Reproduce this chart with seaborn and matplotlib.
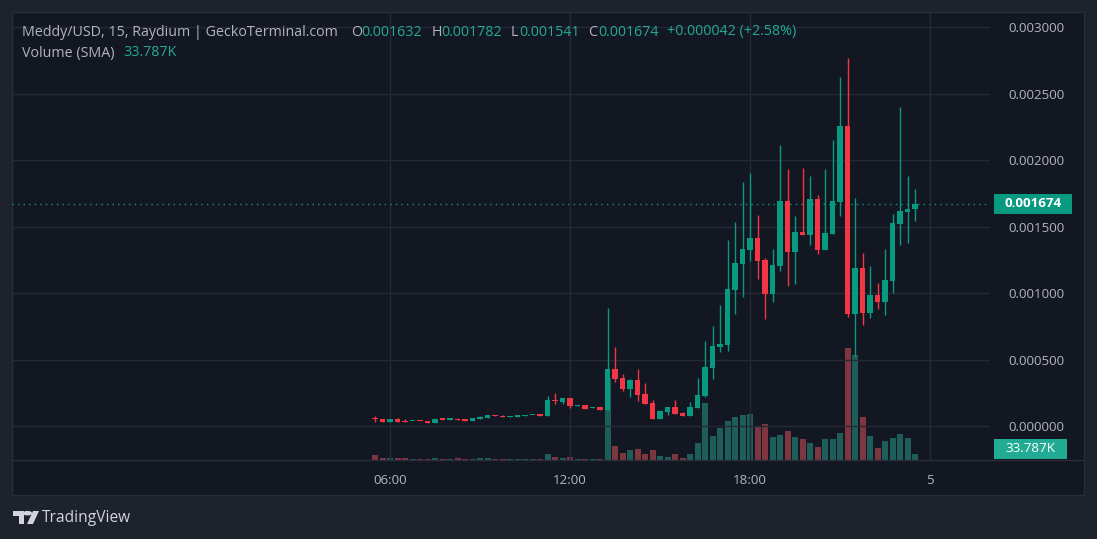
import numpy as np
import pandas as pd
import matplotlib
matplotlib.use("Agg")
import matplotlib.pyplot as plt
import seaborn as sns
from matplotlib.patches import Rectangle, Polygon, Circle
from matplotlib.lines import Line2D

# ---------------- data (prices in units of 0.001 USD, volume in K) ----------------
PRICE_UNIT = 1e-3
start_hour = 5.5          # first candle 05:30
interval_h = 0.25         # 15 minute candles

open_ = [0.062, 0.053, 0.030, 0.053, 0.035, 0.036, 0.038, 0.030, 0.025, 0.053,
         0.048, 0.053, 0.053, 0.038, 0.053, 0.060, 0.083, 0.075, 0.068, 0.070,
         0.077, 0.080, 0.083, 0.075, 0.196, 0.181, 0.211, 0.150, 0.158, 0.135,
         0.143, 0.120, 0.429, 0.361, 0.278, 0.346, 0.241, 0.173, 0.053, 0.105,
         0.143, 0.098, 0.075, 0.138, 0.226, 0.436, 0.594, 0.609, 1.023, 1.219,
         1.324, 1.415, 1.249, 0.993, 1.204, 1.693, 1.309, 1.460, 1.437, 1.708,
         1.324, 1.445, 1.685, 2.257, 0.843, 1.189, 0.850, 0.986, 0.933, 1.091,
         1.520, 1.610, 1.632]
high = [0.075, 0.053, 0.053, 0.060, 0.053, 0.038, 0.038, 0.030, 0.053, 0.053,
        0.052, 0.060, 0.053, 0.060, 0.075, 0.083, 0.083, 0.085, 0.075, 0.075,
        0.083, 0.083, 0.083, 0.226, 0.248, 0.211, 0.211, 0.158, 0.158, 0.143,
        0.143, 0.888, 0.594, 0.391, 0.354, 0.429, 0.324, 0.196, 0.120, 0.143,
        0.196, 0.105, 0.181, 0.361, 0.640, 0.752, 0.910, 1.400, 1.535, 1.836,
        1.904, 1.588, 1.264, 1.332, 2.114, 1.934, 1.580, 1.941, 1.881, 1.738,
        1.934, 2.152, 2.626, 2.769, 1.716, 1.302, 1.204, 1.076, 1.332, 1.595,
        2.400, 1.881, 1.782]
low = [0.028, 0.030, 0.030, 0.030, 0.032, 0.036, 0.035, 0.025, 0.025, 0.048,
       0.048, 0.045, 0.038, 0.038, 0.053, 0.060, 0.075, 0.068, 0.068, 0.070,
       0.077, 0.080, 0.078, 0.075, 0.165, 0.165, 0.135, 0.150, 0.128, 0.135,
       0.120, 0.120, 0.333, 0.263, 0.218, 0.188, 0.166, 0.053, 0.053, 0.083,
       0.090, 0.075, 0.075, 0.138, 0.218, 0.354, 0.557, 0.564, 0.843, 0.971,
       1.242, 1.106, 0.805, 0.933, 1.166, 1.053, 1.068, 1.437, 1.362, 1.294,
       1.324, 1.445, 1.580, 0.820, 0.527, 0.760, 0.813, 0.880, 0.835, 1.001,
       1.362, 1.377, 1.541]
close = [0.050, 0.030, 0.053, 0.030, 0.032, 0.038, 0.035, 0.025, 0.053, 0.048,
         0.052, 0.045, 0.038, 0.060, 0.068, 0.083, 0.075, 0.068, 0.075, 0.075,
         0.083, 0.083, 0.078, 0.196, 0.188, 0.211, 0.150, 0.158, 0.128, 0.143,
         0.120, 0.429, 0.354, 0.278, 0.346, 0.233, 0.166, 0.053, 0.113, 0.143,
         0.090, 0.075, 0.143, 0.233, 0.444, 0.602, 0.617, 1.031, 1.226, 1.332,
         1.415, 1.242, 0.993, 1.211, 1.693, 1.309, 1.460, 1.437, 1.708, 1.324,
         1.452, 1.693, 2.257, 0.843, 1.189, 0.850, 0.986, 0.933, 1.099, 1.527,
         1.618, 1.632, 1.674]
volume_k = [28, 11, 11, 11, 11, 6, 6, 6, 11, 6,
            6, 11, 6, 6, 11, 11, 6, 6, 6, 6,
            6, 6, 6, 34, 17, 11, 17, 6, 6, 6,
            6, 462, 79, 39, 56, 62, 34, 56, 23, 17,
            34, 11, 34, 96, 321, 135, 180, 220, 242, 253,
            259, 191, 203, 129, 141, 163, 129, 118, 96, 73,
            118, 118, 152, 631, 591, 242, 135, 68, 107, 124,
            146, 124, 33.787]

price_ticks = [0.0, 0.5, 1.0, 1.5, 2.0, 2.5, 3.0]
time_ticks = [6, 12, 18, 24]
time_labels = ["06:00", "12:00", "18:00", "5"]
change_text = "+0.000042 (+2.58%)"

df = pd.DataFrame({"open": open_, "high": high, "low": low,
                   "close": close, "vol": volume_k})
df["t"] = start_hour + interval_h * np.arange(len(df))
for c in ["open", "high", "low", "close"]:
    df[c] = df[c] * PRICE_UNIT
df["up"] = df["close"] >= df["open"]

# ---------------- style ----------------
sns.set_theme(style="dark")
plt.rcParams['font.family'] = ['Open Sans', 'DejaVu Sans']

UP, DOWN = "#089981", "#f23645"
VUP, VDOWN = "#1d5e5a", "#7e3640"
GRID = "#252935"
TXT = "#b2b5be"
PANE = "#131722"
OUTER = "#1e222d"
FS = 9.6      # axis labels
HFS = 10.3    # header legend

W, H = 1097, 539
fig = plt.figure(figsize=(W / 100, H / 100), dpi=100)
fig.patch.set_facecolor(OUTER)

def fx(x):
    return x / W

def fy(y):
    return 1 - y / H

# pane background
fig.patches.append(Rectangle((fx(12), fy(495)), fx(1084) - fx(12), fy(12) - fy(495),
                             transform=fig.transFigure, facecolor=PANE,
                             edgecolor="#2a2e39", lw=1, zorder=-5))

rect = [fx(12), fy(460), fx(990) - fx(12), fy(12) - fy(460)]
px_per_mp = 132.9
y_top = (426 - 12) / px_per_mp * PRICE_UNIT
y_bot = (426 - 460) / px_per_mp * PRICE_UNIT

# volume axis (behind)
axv = fig.add_axes(rect, zorder=1)
axv.set_facecolor("none")
vol_per_px = 33.787 / 6.0
axv.set_ylim(0, 448 * vol_per_px)
axv.set_xlim(-6.6, 26)
axv.bar(df["t"], df["vol"], width=0.2,
        color=[VUP if u else VDOWN for u in df["up"]], linewidth=0, zorder=1)
axv.axis("off")

# price axis
ax = fig.add_axes(rect, zorder=2)
ax.set_facecolor("none")
ax.set_xlim(-6.6, 26)
ax.set_ylim(y_bot, y_top)
for s in ax.spines.values():
    s.set_visible(False)

cols = [UP if u else DOWN for u in df["up"]]
ax.vlines(df["t"], df["low"], df["high"], colors=cols, lw=1.0, zorder=3)
min_h = 1.2 / px_per_mp * PRICE_UNIT
body_bottom = np.minimum(df["open"], df["close"])
body_h = np.maximum(np.abs(df["close"] - df["open"]), min_h)
ax.bar(df["t"], body_h, bottom=body_bottom, width=0.17, color=cols,
       linewidth=0, zorder=4)

ax.set_yticks([p * PRICE_UNIT for p in price_ticks])
ax.set_yticklabels([f"{p * PRICE_UNIT:.6f}" for p in price_ticks])
ax.yaxis.tick_right()
ax.set_xticks(time_ticks)
ax.set_xticklabels(time_labels)
ax.tick_params(axis="y", length=0, pad=13, labelsize=FS, labelcolor=TXT)
ax.tick_params(axis="x", length=0, pad=10, labelsize=FS, labelcolor=TXT)
ax.grid(True, color=GRID, lw=1)
ax.set_axisbelow(True)
axv.grid(False)

last = df["close"].iloc[-1]
ax.axhline(last, color=UP, lw=1, ls=(0, (1, 3)), zorder=2)

# separator under plot
fig.add_artist(Line2D([fx(12), fx(1084)], [fy(460), fy(460)], color="#2a2e39",
                      lw=1, transform=fig.transFigure))

# price label boxes
fig.canvas.draw()
_, ly = ax.transData.transform((0, last))
ly_px = H - ly
fig.patches.append(Rectangle((fx(994), fy(ly_px + 10)), fx(1072) - fx(994), 20 / H,
                             transform=fig.transFigure, facecolor=UP, lw=0, zorder=5))
fig.text(fx(1033), fy(ly_px), f"{last:.6f}", color="white", fontsize=FS,
         fontweight="bold", ha="center", va="center", zorder=6)

_, vy = axv.transData.transform((0, df["vol"].iloc[-1]))
vy_px = min(H - vy, 449)
fig.patches.append(Rectangle((fx(994), fy(vy_px + 10)), fx(1067) - fx(994), 20 / H,
                             transform=fig.transFigure, facecolor="#22ab94", lw=0, zorder=5))
fig.text(fx(1030.5), fy(vy_px), f"{df['vol'].iloc[-1]:.3f}K", color="white",
         fontsize=FS, ha="center", va="center", zorder=6)

# header legend
o, h, l, c = (df[k].iloc[-1] for k in ["open", "high", "low", "close"])
VAL = "#22ab94"
hdr = [
    (22, "Meddy/USD, 15, Raydium | GeckoTerminal.com", TXT),
    (351, "O", TXT), (361, f"{o:.6f}", VAL),
    (432, "H", TXT), (441, f"{h:.6f}", VAL),
    (511, "L", TXT), (519, f"{l:.6f}", VAL),
    (588, "C", TXT), (598, f"{c:.6f}", VAL),
    (667, change_text, VAL),
]
for x, s, col in hdr:
    fig.text(fx(x), fy(32), s, color=col, fontsize=HFS, ha="left", va="center")
fig.text(fx(22), fy(53), "Volume (SMA)", color=TXT, fontsize=HFS, ha="left", va="center")
fig.text(fx(123), fy(53), f"{df['vol'].iloc[-1]:.3f}K", color=VAL, fontsize=HFS,
         ha="left", va="center")

# TradingView logo
LOGO = "#d1d4dc"
def P(pts):
    return [(fx(a), fy(b)) for a, b in pts]
fig.patches.append(Polygon(P([(13, 511), (24, 511), (24, 524), (19, 524), (19, 515.5), (13, 515.5)]),
                           closed=True, transform=fig.transFigure, facecolor=LOGO, lw=0))
fig.patches.append(Circle((fx(27.5), fy(513.2)), 2.3 / H, transform=fig.transFigure,
                          facecolor=LOGO, lw=0))
fig.patches.append(Polygon(P([(33, 511), (39, 511), (33, 524), (27, 524)]),
                           closed=True, transform=fig.transFigure, facecolor=LOGO, lw=0))
fig.text(fx(42), fy(518), "TradingView", color=LOGO, fontsize=11.2, ha="left", va="center")

fig.savefig("out.png", dpi=100, facecolor=fig.get_facecolor())
